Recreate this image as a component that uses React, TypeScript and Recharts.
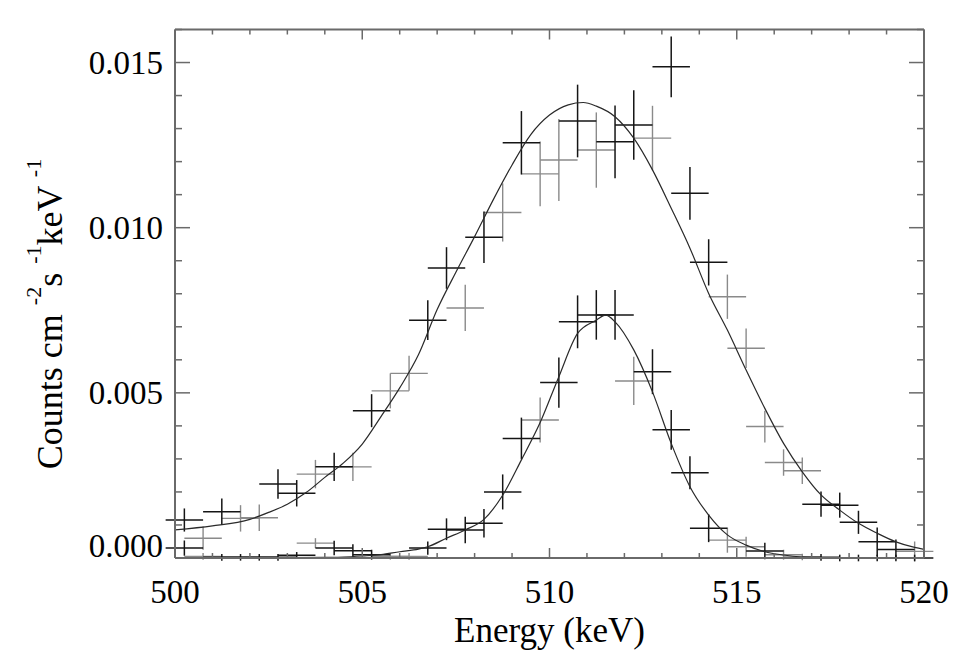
import React from 'react';
import { ComposedChart, Line, Scatter, ErrorBar, XAxis, YAxis } from 'recharts';

// ---- tick values ----
const xTicks = [500, 501, 502, 503, 504, 505, 506, 507, 508, 509, 510, 511, 512, 513, 514, 515, 516, 517, 518, 519, 520];
const yTicks = [0, 0.001, 0.002, 0.003, 0.004, 0.005, 0.006, 0.007, 0.008, 0.009, 0.01, 0.011, 0.012, 0.013, 0.014, 0.015, 0.016];
const xMajor = [500, 505, 510, 515, 520];
const yMajor = [0, 0.005, 0.01, 0.015];

// ---- broad line: measured points (energy, counts, 1-sigma error) ----
const broadDark = [
  { e: 500.25, v: 0.00115, err: 0.00035 },
  { e: 501.25, v: 0.0014, err: 0.0004 },
  { e: 502.75, v: 0.00224, err: 0.00045 },
  { e: 503.25, v: 0.00196, err: 0.0004 },
  { e: 504.25, v: 0.00276, err: 0.00043 },
  { e: 505.25, v: 0.00446, err: 0.0005 },
  { e: 506.75, v: 0.0072, err: 0.0006 },
  { e: 507.25, v: 0.00878, err: 0.00063 },
  { e: 508.25, v: 0.00971, err: 0.00078 },
  { e: 509.25, v: 0.01257, err: 0.00096 },
  { e: 510.75, v: 0.01323, err: 0.0011 },
  { e: 511.75, v: 0.0126, err: 0.0011 },
  { e: 512.25, v: 0.01311, err: 0.00105 },
  { e: 513.25, v: 0.01487, err: 0.00092 },
  { e: 513.75, v: 0.01104, err: 0.0008 },
  { e: 514.25, v: 0.00895, err: 0.0007 },
  { e: 517.25, v: 0.00163, err: 0.00038 },
  { e: 517.75, v: 0.0016, err: 0.00038 },
  { e: 518.25, v: 0.00108, err: 0.00035 },
  { e: 518.75, v: 0.00049, err: 0.00043 },
  { e: 519.25, v: 0.00026, err: 0.0003 },
];
const broadLight = [
  { e: 500.75, v: 0.0006, err: 0.00035 },
  { e: 501.75, v: 0.0012, err: 0.0004 },
  { e: 502.25, v: 0.00122, err: 0.0004 },
  { e: 503.75, v: 0.00254, err: 0.00043 },
  { e: 504.75, v: 0.00276, err: 0.00043 },
  { e: 505.75, v: 0.00506, err: 0.00053 },
  { e: 506.25, v: 0.00559, err: 0.00053 },
  { e: 507.75, v: 0.00757, err: 0.0007 },
  { e: 508.75, v: 0.01046, err: 0.00088 },
  { e: 509.75, v: 0.01163, err: 0.00098 },
  { e: 510.25, v: 0.01205, err: 0.00124 },
  { e: 511.25, v: 0.01235, err: 0.00114 },
  { e: 512.75, v: 0.01271, err: 0.00098 },
  { e: 514.75, v: 0.00791, err: 0.00067 },
  { e: 515.25, v: 0.00635, err: 0.0006 },
  { e: 515.75, v: 0.00398, err: 0.00048 },
  { e: 516.25, v: 0.00289, err: 0.0004 },
  { e: 516.75, v: 0.00264, err: 0.0004 },
  { e: 519.75, v: 0.0002, err: 0.0003 },
];

// ---- narrow line: measured points ----
const narrowDark = [
  { e: 500.25, v: 0.0003, err: 0.00023 },
  { e: 501.25, v: 0.00002, err: 0.0001 },
  { e: 501.75, v: 0.00002, err: 0.0001 },
  { e: 502.25, v: 0.00002, err: 0.0001 },
  { e: 502.75, v: 0.00002, err: 0.0001 },
  { e: 503.25, v: 0.00008, err: 0.0001 },
  { e: 504.25, v: 0.0003, err: 0.00022 },
  { e: 504.75, v: 0.00022, err: 0.0002 },
  { e: 505.25, v: 0.0001, err: 0.00015 },
  { e: 506.75, v: 0.0003, err: 0.0002 },
  { e: 507.25, v: 0.00087, err: 0.00033 },
  { e: 507.75, v: 0.00085, err: 0.0004 },
  { e: 508.25, v: 0.00105, err: 0.00043 },
  { e: 508.75, v: 0.002, err: 0.00053 },
  { e: 509.25, v: 0.00362, err: 0.00063 },
  { e: 510.25, v: 0.00531, err: 0.00076 },
  { e: 510.75, v: 0.00715, err: 0.0008 },
  { e: 511.25, v: 0.00736, err: 0.00075 },
  { e: 511.75, v: 0.00736, err: 0.00075 },
  { e: 512.75, v: 0.00564, err: 0.00068 },
  { e: 513.25, v: 0.00388, err: 0.0006 },
  { e: 513.75, v: 0.00258, err: 0.0005 },
  { e: 514.25, v: 0.0009, err: 0.00042 },
  { e: 515.75, v: 0.00021, err: 0.00025 },
  { e: 517.25, v: 0.00002, err: 0.0001 },
  { e: 517.75, v: 0.0, err: 0.0001 },
  { e: 518.25, v: 0.0, err: 0.0001 },
  { e: 518.75, v: 0.0, err: 0.0001 },
  { e: 519.25, v: 0.0, err: 0.0001 },
  { e: 519.75, v: 0.0, err: 0.0001 },
];
const narrowLight = [
  { e: 500.75, v: 0.00005, err: 0.0001 },
  { e: 503.75, v: 0.00045, err: 0.00015 },
  { e: 505.75, v: 0.00005, err: 0.0001 },
  { e: 506.25, v: 0.00005, err: 0.0001 },
  { e: 509.75, v: 0.00418, err: 0.00068 },
  { e: 512.25, v: 0.00536, err: 0.00073 },
  { e: 514.75, v: 0.00054, err: 0.00038 },
  { e: 515.25, v: 0.00034, err: 0.0003 },
  { e: 516.25, v: 0.0001, err: 0.00015 },
  { e: 516.75, v: 0.00003, err: 0.0001 },
];

// half bin width (keV)
const binHalf = 0.5;

// ---- fitted model curves ----
const broadFit = [
  { e: 500, v: 0.00085 }, { e: 501, v: 0.00097 }, { e: 502, v: 0.00117 }, { e: 502.5, v: 0.00138 },
  { e: 503, v: 0.00163 }, { e: 503.5, v: 0.00198 }, { e: 504, v: 0.00244 }, { e: 504.5, v: 0.00288 },
  { e: 505, v: 0.00345 }, { e: 505.5, v: 0.00428 }, { e: 506, v: 0.00515 }, { e: 506.5, v: 0.00615 },
  { e: 507, v: 0.00752 }, { e: 507.5, v: 0.00865 }, { e: 508, v: 0.00973 }, { e: 508.5, v: 0.01085 },
  { e: 509, v: 0.0119 }, { e: 509.5, v: 0.01282 }, { e: 510, v: 0.01341 }, { e: 510.5, v: 0.01372 },
  { e: 510.9, v: 0.01379 }, { e: 511.25, v: 0.01368 }, { e: 511.75, v: 0.01336 }, { e: 512.25, v: 0.01271 },
  { e: 512.75, v: 0.01175 }, { e: 513.25, v: 0.01059 }, { e: 513.75, v: 0.00938 }, { e: 514.25, v: 0.00801 },
  { e: 514.75, v: 0.0069 }, { e: 515.25, v: 0.00569 }, { e: 515.75, v: 0.00453 }, { e: 516.25, v: 0.00347 },
  { e: 516.75, v: 0.00261 }, { e: 517.25, v: 0.00191 }, { e: 517.75, v: 0.00145 }, { e: 518.25, v: 0.00105 },
  { e: 518.75, v: 0.00075 }, { e: 519.25, v: 0.00049 }, { e: 519.75, v: 0.00032 }, { e: 520, v: 0.00026 },
];
const narrowFit = [
  { e: 500, v: 0 }, { e: 502, v: 0 }, { e: 503, v: 0.00001 }, { e: 504, v: 0.00002 },
  { e: 504.5, v: 0.00003 }, { e: 505, v: 0.00006 }, { e: 505.5, v: 0.0001 }, { e: 506, v: 0.00019 },
  { e: 506.5, v: 0.00027 }, { e: 506.75, v: 0.00034 }, { e: 507.25, v: 0.0006 }, { e: 507.75, v: 0.00085 },
  { e: 508.25, v: 0.00117 }, { e: 508.75, v: 0.0019 }, { e: 509.25, v: 0.00297 }, { e: 509.75, v: 0.0041 },
  { e: 510.25, v: 0.00549 }, { e: 510.75, v: 0.0068 }, { e: 511.25, v: 0.0072 }, { e: 511.5, v: 0.00735 },
  { e: 511.75, v: 0.00715 }, { e: 512.25, v: 0.0063 }, { e: 512.75, v: 0.00503 }, { e: 513.25, v: 0.00347 },
  { e: 513.75, v: 0.00216 }, { e: 514.25, v: 0.0013 }, { e: 514.75, v: 0.0007 }, { e: 515.25, v: 0.00039 },
  { e: 515.75, v: 0.00019 }, { e: 516.25, v: 0.00009 }, { e: 516.75, v: 0.00003 }, { e: 517.25, v: 0.00001 },
  { e: 517.75, v: 0 },
];

const FONT = '"Liberation Serif", "Times New Roman", serif';
const DARK = '#151515';
const LIGHT = '#8a8a8a';
const FRAME = '#6a6a6a';

const withEx = (arr: { e: number; v: number; err: number }[]) => arr.map((d) => ({ ...d, ex: binHalf }));

const isXMajor = (v: number) => xMajor.some((m) => Math.abs(m - v) < 1e-9);
const isYMajor = (v: number) => yMajor.some((m) => Math.abs(m - v) < 1e-9);

const BottomTick = (props: any) => {
  const { x, y, payload } = props;
  const major = isXMajor(payload.value);
  return (
    <g>
      <line x1={x} x2={x} y1={y} y2={y - (major ? 10 : 5)} stroke={FRAME} strokeWidth={1.5} />
      {major && (
        <text x={x} y={y + 45} textAnchor="middle" fontFamily={FONT} fontSize={33} fill="#000">
          {payload.value}
        </text>
      )}
    </g>
  );
};
const TopTick = (props: any) => {
  const { x, y, payload } = props;
  const major = isXMajor(payload.value);
  return <line x1={x} x2={x} y1={y} y2={y + (major ? 10 : 5)} stroke={FRAME} strokeWidth={1.5} />;
};
const LeftTick = (props: any) => {
  const { x, y, payload } = props;
  const major = isYMajor(payload.value);
  const isZero = Math.abs(payload.value) < 1e-12;
  return (
    <g>
      <line x1={x} x2={x + (major ? 15 : 7)} y1={y} y2={y} stroke={FRAME} strokeWidth={1.5} />
      {major && (
        <text x={x - 12} y={isZero ? y - 1 : y + 11} textAnchor="end" fontFamily={FONT} fontSize={33} fill="#000">
          {payload.value.toFixed(3)}
        </text>
      )}
    </g>
  );
};
const RightTick = (props: any) => {
  const { x, y, payload } = props;
  const major = isYMajor(payload.value);
  return <line x1={x} x2={x - (major ? 15 : 7)} y1={y} y2={y} stroke={FRAME} strokeWidth={1.5} />;
};

const XTitle = (props: any) => {
  const vb = props.viewBox || {};
  return (
    <text x={vb.x + vb.width / 2} y={vb.y + 84} textAnchor="middle" fontFamily={FONT} fontSize={35} fill="#000">
      Energy (keV)
    </text>
  );
};
const YTitle = () => {
  const cx = 62;
  const cy = 314;
  return (
    <text
      x={cx}
      y={cy}
      transform={`rotate(-90, ${cx}, ${cy})`}
      textAnchor="middle"
      fontFamily={FONT}
      fontSize={36}
      fill="#000"
    >
      <tspan>Counts cm </tspan>
      <tspan dy={-21} fontSize={22}>-2</tspan>
      <tspan dy={21}>s </tspan>
      <tspan dy={-21} fontSize={22}>-1</tspan>
      <tspan dy={21}>keV </tspan>
      <tspan dy={-21} fontSize={22}>-1</tspan>
    </text>
  );
};

const NoShape = () => <g />;

export default function App() {
  return (
    <div style={{ position: 'absolute', left: 0, top: 0, background: '#fff' }}>
      <ComposedChart width={957} height={657} margin={{ top: 28.5, right: 32, bottom: 0, left: 0 }}>
        <XAxis
          xAxisId="b"
          type="number"
          dataKey="e"
          domain={[500, 520]}
          ticks={xTicks}
          interval={0}
          allowDataOverflow
          height={99}
          tickSize={0}
          tickMargin={0}
          tickLine={false}
          tick={<BottomTick />}
          axisLine={{ stroke: FRAME, strokeWidth: 2 }}
          label={<XTitle />}
        />
        <XAxis
          xAxisId="t"
          orientation="top"
          type="number"
          dataKey="e"
          domain={[500, 520]}
          ticks={xTicks}
          interval={0}
          allowDataOverflow
          height={1}
          tickSize={0}
          tickMargin={0}
          tickLine={false}
          tick={<TopTick />}
          axisLine={{ stroke: FRAME, strokeWidth: 2 }}
        />
        <YAxis
          yAxisId="l"
          type="number"
          dataKey="v"
          domain={[0, 0.016]}
          ticks={yTicks}
          interval={0}
          allowDataOverflow
          width={175}
          tickSize={0}
          tickMargin={0}
          tickLine={false}
          tick={<LeftTick />}
          axisLine={{ stroke: FRAME, strokeWidth: 2 }}
          label={<YTitle />}
        />
        <YAxis
          yAxisId="r"
          orientation="right"
          type="number"
          dataKey="v"
          domain={[0, 0.016]}
          ticks={yTicks}
          interval={0}
          allowDataOverflow
          width={1}
          tickSize={0}
          tickMargin={0}
          tickLine={false}
          tick={<RightTick />}
          axisLine={{ stroke: FRAME, strokeWidth: 2 }}
        />

        <Scatter xAxisId="b" yAxisId="l" data={withEx(broadLight)} dataKey="v" shape={<NoShape />} isAnimationActive={false}>
          <ErrorBar dataKey="err" direction="y" width={0} stroke={LIGHT} strokeWidth={1.4} isAnimationActive={false} />
          <ErrorBar dataKey="ex" direction="x" width={0} stroke={LIGHT} strokeWidth={1.4} isAnimationActive={false} />
        </Scatter>
        <Scatter xAxisId="b" yAxisId="l" data={withEx(narrowLight)} dataKey="v" shape={<NoShape />} isAnimationActive={false}>
          <ErrorBar dataKey="err" direction="y" width={0} stroke={LIGHT} strokeWidth={1.4} isAnimationActive={false} />
          <ErrorBar dataKey="ex" direction="x" width={0} stroke={LIGHT} strokeWidth={1.4} isAnimationActive={false} />
        </Scatter>
        <Scatter xAxisId="b" yAxisId="l" data={withEx(broadDark)} dataKey="v" shape={<NoShape />} isAnimationActive={false}>
          <ErrorBar dataKey="err" direction="y" width={0} stroke={DARK} strokeWidth={1.5} isAnimationActive={false} />
          <ErrorBar dataKey="ex" direction="x" width={0} stroke={DARK} strokeWidth={1.5} isAnimationActive={false} />
        </Scatter>
        <Scatter xAxisId="b" yAxisId="l" data={withEx(narrowDark)} dataKey="v" shape={<NoShape />} isAnimationActive={false}>
          <ErrorBar dataKey="err" direction="y" width={0} stroke={DARK} strokeWidth={1.5} isAnimationActive={false} />
          <ErrorBar dataKey="ex" direction="x" width={0} stroke={DARK} strokeWidth={1.5} isAnimationActive={false} />
        </Scatter>

        <Line xAxisId="b" yAxisId="l" data={broadFit} dataKey="v" type="monotone" stroke="#2a2a2a" strokeWidth={1.2} dot={false} activeDot={false} isAnimationActive={false} />
        <Line xAxisId="b" yAxisId="l" data={narrowFit} dataKey="v" type="monotone" stroke="#2a2a2a" strokeWidth={1.2} dot={false} activeDot={false} isAnimationActive={false} />
        {/* invisible series so the mirrored top/right frame axes are rendered */}
        <Line xAxisId="t" yAxisId="r" data={broadFit} dataKey="v" type="monotone" stroke="none" dot={false} activeDot={false} legendType="none" isAnimationActive={false} />
      </ComposedChart>
    </div>
  );
}
